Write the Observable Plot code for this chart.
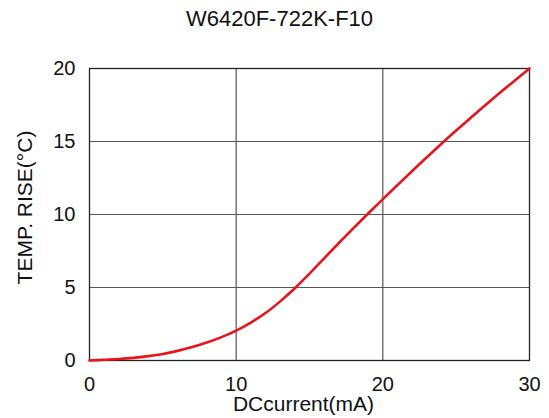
<!DOCTYPE html>
<html>
<head>
<meta charset="utf-8">
<script src="https://cdn.jsdelivr.net/npm/d3@7"></script>
<script src="https://cdn.jsdelivr.net/npm/@observablehq/plot@0.6"></script>
<style>
  html, body { margin: 0; padding: 0; background: #fff; }
  #chart svg { display: block; }
</style>
</head>
<body>
<div id="chart"></div>
<script>
const title = "W6420F-722K-F10";
const xLabel = "DCcurrent(mA)";
const yLabel = "TEMP. RISE(°C)";
const xTicks = [0, 10, 20, 30];
const yTicks = [0, 5, 10, 15, 20];
const current = [0,1,2,3,4,5,6,7,8,9,10,11,12,13,14,15,16,17,18,19,20,21,22,23,24,25,26,27,28,29,30];
const tempRise = [0,0.05,0.1,0.18,0.3,0.45,0.66,0.92,1.23,1.6,2.05,2.6,3.25,4.05,4.95,5.95,7.0,8.05,9.07,10.07,11.05,12.02,12.98,13.92,14.85,15.75,16.63,17.5,18.35,19.18,20.0];

const data = current.map((x, i) => ({x, y: tempRise[i]}));
const font = "Liberation Sans, Arial, sans-serif";

const chart = Plot.plot({
  width: 549,
  height: 418,
  marginLeft: 89,
  marginRight: 20,
  marginTop: 68,
  marginBottom: 58,
  style: {fontFamily: font, color: "#111", background: "#fff"},
  x: {domain: [0, 30]},
  y: {domain: [0, 20]},
  marks: [
    Plot.gridX(xTicks.slice(1, -1), {stroke: "#555", strokeOpacity: 1, strokeWidth: 1.2}),
    Plot.gridY(yTicks.slice(1, -1), {stroke: "#555", strokeOpacity: 1, strokeWidth: 1.2}),
    Plot.frame({stroke: "#222", strokeWidth: 1.3}),
    Plot.axisX(xTicks, {tickSize: 0, tickPadding: 16, fontSize: 20, label: null, fill: "#111"}),
    Plot.axisY(yTicks, {tickSize: 0, tickPadding: 14, fontSize: 20, label: null, fill: "#111"}),
    Plot.line(data, {x: "x", y: "y", stroke: "#e8141b", strokeWidth: 2.6, curve: "monotone-x"}),
    Plot.text([title], {frameAnchor: "top", lineAnchor: "middle", dy: -50, dx: -30, fontSize: 22, fill: "#111"}),
    Plot.text([xLabel], {frameAnchor: "bottom", lineAnchor: "middle", dy: 44, dx: -6, fontSize: 21, fill: "#111"}),
    Plot.text([yLabel], {frameAnchor: "left", textAnchor: "middle", lineAnchor: "middle", rotate: -90, dx: -64, dy: -7, fontSize: 21, fill: "#111"})
  ]
});
document.getElementById("chart").appendChild(chart);
</script>
</body>
</html>
